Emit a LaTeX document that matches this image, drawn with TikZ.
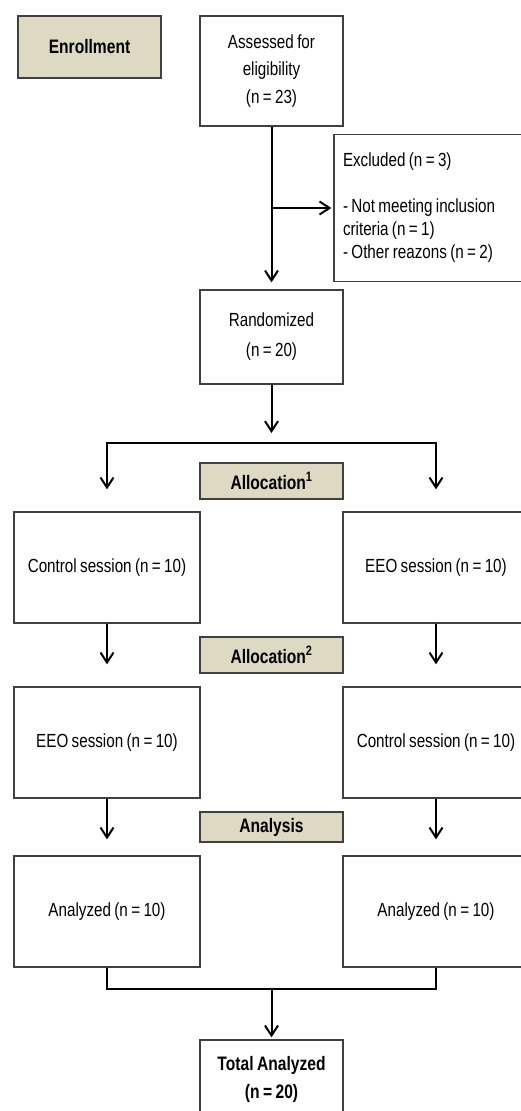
\documentclass[tikz,border=0pt]{standalone}
\usepackage{fontspec}
\setmainfont{Liberation Sans}[FakeStretch=0.8, WordSpace=0.8]
\usetikzlibrary{positioning,arrows.meta}

\definecolor{boxgray}{HTML}{404040}
\definecolor{stagetan}{HTML}{DDD9C3}

\begin{document}
\begin{tikzpicture}[x=1pt, y=-1pt, on grid,
  box/.style={draw=boxgray, line width=1.3pt, fill=white, align=center,
    inner sep=0pt, font=\fontsize{19}{27.5}\selectfont},
  stage/.style={draw=boxgray, line width=1.3pt, fill=stagetan, minimum width=143pt,
    inner sep=0pt, font=\fontsize{19.5}{22}\selectfont\bfseries},
  arm/.style={box, minimum width=186pt, minimum height=111pt},
  flow/.style={line width=2pt, -{Straight Barb[length=10pt,width=13pt]}},
  link/.style={line width=2pt}]
\path[use as bounding box, fill=white] (0,0) rectangle (521,1111);
\clip (0,0) rectangle (521,1111);

% enrollment
\node [stage, minimum height=62pt] (enroll) at (89.5,47) {Enrollment};
\node [box, minimum width=143pt, minimum height=110pt] (assess) at (271.5,71)
  {Assessed for\\eligibility\\(n = 23)};
\node [box, minimum width=196pt, minimum height=147pt, align=flush left, text width=178pt,
  font=\fontsize{19}{23}\selectfont] (excl) at (432,208)
  {Excluded (n = 3)\\[23pt]- Not meeting inclusion\\criteria (n = 1)\\- Other reazons (n = 2)};
\node [box, minimum width=143pt, minimum height=94pt] (rand) [below = 266pt of assess]
  {Randomized\\[2.5pt](n = 20)};

% allocation
\node [stage, minimum height=36pt] (alloc1) [below = 144pt of rand] {Allocation\textsuperscript{1}};
\node [arm] (ctrlA) [below left = 86.5pt and 164.5pt of alloc1] {Control session (n = 10)};
\node [arm] (eeoA) [right = 329pt of ctrlA] {EEO session (n = 10)};
\node [stage, minimum height=36pt] (alloc2) [below = 174pt of alloc1] {Allocation\textsuperscript{2}};
\node [arm] (eeoB) [below = 175pt of ctrlA] {EEO session (n = 10)};
\node [arm] (ctrlB) [below = 175pt of eeoA] {Control session (n = 10)};

% analysis
\node [stage, minimum height=30pt] (analysis) [below = 172pt of alloc2] {Analysis};
\node [arm] (anaA) [below = 169pt of eeoB] {Analyzed (n = 10)};
\node [arm] (anaB) [below = 169pt of ctrlB] {Analyzed (n = 10)};
\node [box, minimum width=143pt, minimum height=78pt, font=\fontsize{19.5}{28}\selectfont\bfseries]
  (total) [below = 252pt of analysis] {Total Analyzed\\(n = 20)};

\coordinate (split) at (271.5,443);
\coordinate (join) at (271.5,989);

\draw [flow, shorten >=7pt] (assess) -- (rand);
\draw [flow, shorten >=2pt] (assess |- excl) -- (excl);
\draw [flow, shorten >=10pt] (rand) -- (split);
\draw [flow, shorten >=22pt] (split) -| (ctrlA);
\draw [flow, shorten >=22pt] (split) -| (eeoA);
\draw [flow, shorten >=22pt] (ctrlA) -- (eeoB);
\draw [flow, shorten >=22pt] (eeoA) -- (ctrlB);
\draw [flow, shorten >=16pt] (eeoB) -- (anaA);
\draw [flow, shorten >=16pt] (ctrlB) -- (anaB);
\draw [link] (anaA) |- (join) -| (anaB);
\draw [flow, shorten >=2pt] (join) -- (total);
\end{tikzpicture}
\end{document}
